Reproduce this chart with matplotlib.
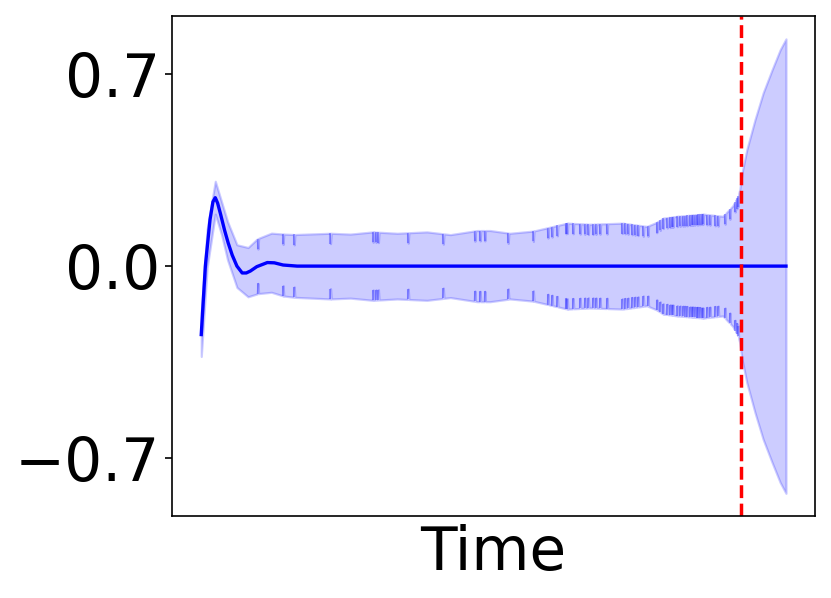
import numpy as np
import matplotlib
matplotlib.use("Agg")
import matplotlib.pyplot as plt

# ---- data (time in arbitrary units 0..100) ----
mean_t = [0.0, 0.7, 1.5, 2.0, 2.4, 2.8, 3.3, 4.0, 4.6, 5.3, 6.1, 7.0, 7.7, 8.4,
          9.5, 11.3, 12.5, 14.0, 16.4, 100.0]
mean_v = [-0.25, 0.0, 0.17, 0.235, 0.25, 0.23, 0.19, 0.13, 0.085, 0.04, 0.0,
          -0.025, -0.025, -0.018, -0.002, 0.013, 0.012, 0.004, 0.0, 0.0]

env_t = [0.0, 1.0, 2.4, 3.5, 4.5, 6.1, 8.0, 9.5, 12.0, 14.0, 22.1, 25.5, 29.4,
         33.5, 38.6, 42.6, 47.2, 49.4, 52.8, 56.8, 62.6, 66.5, 72.1, 76.2, 77.9,
         79.0, 81.4, 85.8, 89.2, 90.9, 91.8, 92.1, 92.5, 93.3, 94.7, 96.1, 97.6,
         99.0, 100.0]
env_hw = [0.08, 0.07, 0.06, 0.06, 0.07, 0.078, 0.09, 0.10, 0.108, 0.113, 0.12,
          0.117, 0.125, 0.12, 0.125, 0.115, 0.13, 0.13, 0.12, 0.128, 0.157, 0.153,
          0.157, 0.145, 0.16, 0.175, 0.182, 0.19, 0.182, 0.22, 0.255, 0.28, 0.342,
          0.425, 0.535, 0.633, 0.716, 0.79, 0.83]

obs_t = [9.7, 14.0, 15.9, 22.1, 29.4, 29.9, 30.3, 35.4, 41.4, 46.8, 47.7, 48.5,
         52.5, 56.8, 59.3, 60.0, 60.9, 62.4, 62.6, 63.6, 64.8, 65.6, 66.2, 67.0,
         67.5, 68.2, 69.4, 72.0, 72.5, 73.0, 73.7, 74.2, 74.7, 75.6, 76.4, 77.9,
         78.5, 79.0, 79.7, 80.2, 80.5, 80.7, 81.4, 81.9, 82.4, 82.7, 83.1, 83.6,
         83.9, 84.1, 84.4, 84.8, 85.0, 85.3, 85.6, 85.8, 86.5, 87.0, 87.9, 88.4,
         89.6, 90.4, 91.3, 91.6, 91.8]
obs_dip = 0.038
split_t = 92.3

# ---- build band polyline (envelope points + narrow dips at observations) ----
env_t_a = np.array(env_t)
env_hw_a = np.array(env_hw)
w = 0.12
pts_t = list(env_t)
pts_hw = list(env_hw)
for td in obs_t:
    h = np.interp(td, env_t_a, env_hw_a)
    pts_t += [td - w, td, td + w]
    pts_hw += [np.interp(td - w, env_t_a, env_hw_a), h - obs_dip,
               np.interp(td + w, env_t_a, env_hw_a)]
order = np.argsort(pts_t, kind="stable")
bt = np.array(pts_t)[order]
bhw = np.array(pts_hw)[order]
bmean = np.interp(bt, mean_t, mean_v)

obs_a = np.array(obs_t)
obs_hw = np.interp(obs_a, env_t_a, env_hw_a)
obs_mean = np.interp(obs_a, mean_t, mean_v)

fig = plt.figure(figsize=(8.31, 5.98), dpi=100)
ax = fig.add_axes([0.207, 0.137, 0.774, 0.836])

ax.fill_between(bt, bmean - bhw, bmean + bhw, color="blue", alpha=0.2,
                linewidth=1.6)
ax.vlines(obs_a, obs_mean + obs_hw - obs_dip, obs_mean + obs_hw,
          color="blue", alpha=0.3, linewidth=1.5)
ax.vlines(obs_a, obs_mean - obs_hw, obs_mean - obs_hw + obs_dip,
          color="blue", alpha=0.3, linewidth=1.5)
ax.plot(mean_t, mean_v, color="blue", linewidth=2.4)
ax.axvline(split_t, color="red", linestyle="--", linewidth=2.5)

ax.set_yticks([-0.7, 0.0, 0.7])
ax.set_yticklabels(["\u22120.7", "0.0", "0.7"])
ax.set_xticks([])
ax.tick_params(axis="y", labelsize=43, length=5, width=1.2, pad=3.5)
ax.set_xlabel("Time", fontsize=43, labelpad=6)
for s in ax.spines.values():
    s.set_linewidth(1.2)

fig.savefig("out.png", dpi=100)
